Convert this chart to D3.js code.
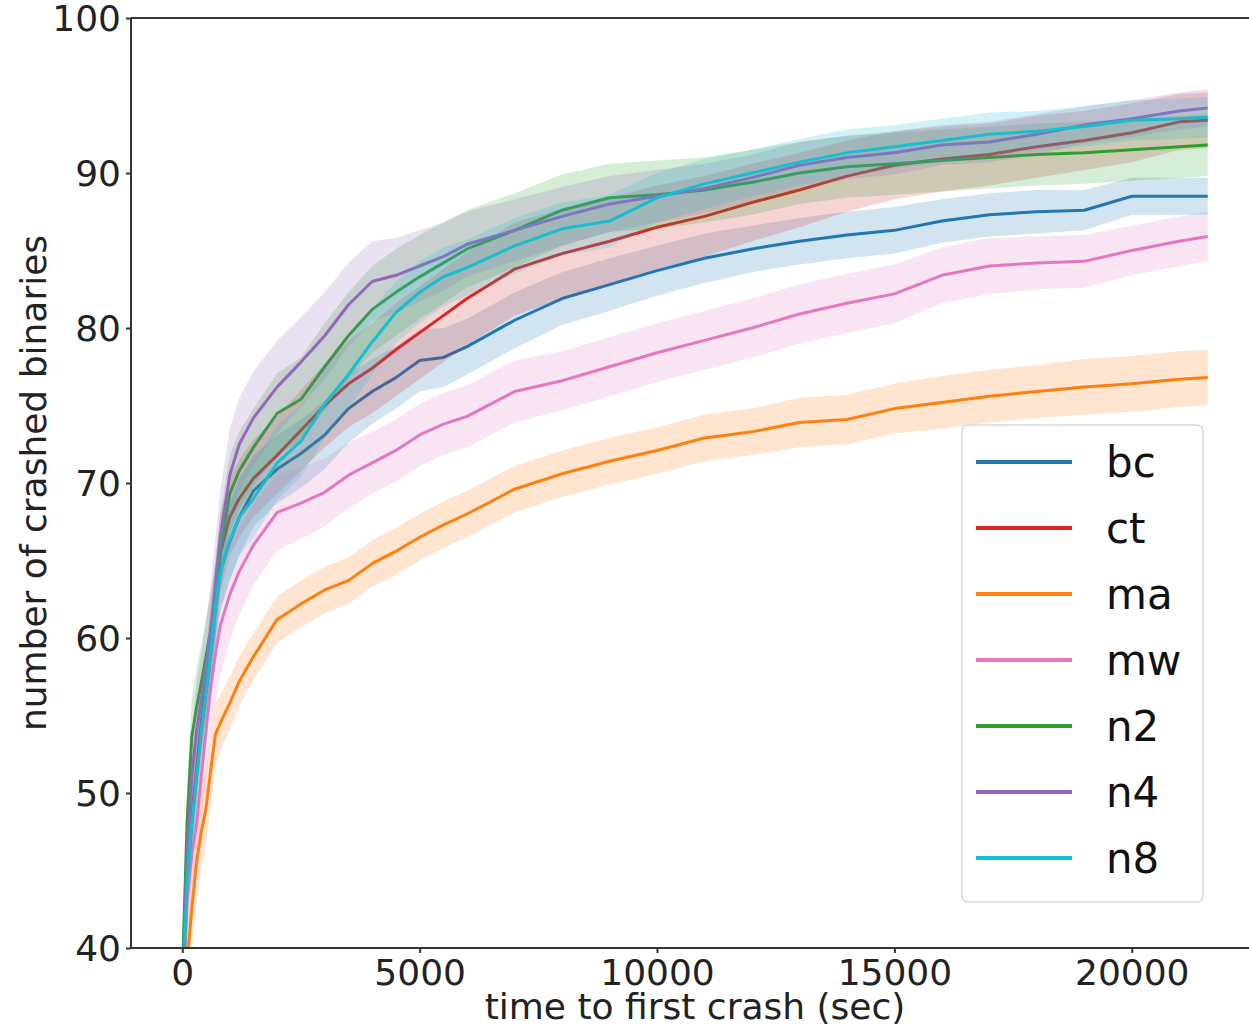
<!DOCTYPE html>
<html><head><meta charset="utf-8">
<script src="https://cdn.jsdelivr.net/npm/d3@7"></script>
<style>body{margin:0;background:#fff}svg{display:block}text{font-family:"DejaVu Sans",sans-serif}</style>
</head><body>
<script>
const times = [0,100,200,300,400,500,600,700,800,1000,1200,1500,2000,2500,3000,3500,4000,4500,5000,5500,6000,7000,8000,9000,10000,11000,12000,13000,14000,15000,16000,17000,18000,19000,20000,21000,21600];

const bc = [36,44,48,51,54,56.5,59,62,64.3,66.2,67.8,69.5,70.9,71.9,73.1,74.8,75.9,76.8,77.9,78.1,78.8,80.5,81.9,82.8,83.7,84.5,85.1,85.6,86.0,86.3,86.9,87.3,87.5,87.6,88.5,88.5,88.5];
const ct = [36,44,48.5,51.5,54.5,57,60,62.5,65.5,67.8,69.0,70.3,71.8,73.4,75.0,76.4,77.4,78.6,79.7,80.8,81.9,83.8,84.8,85.6,86.5,87.2,88.1,88.9,89.8,90.5,90.9,91.2,91.7,92.1,92.6,93.3,93.4];
const ma = [36,39,42.5,45.5,47.5,49,51.5,53.8,54.5,55.8,57.2,58.8,61.2,62.2,63.1,63.7,64.8,65.6,66.5,67.3,68.0,69.6,70.6,71.4,72.1,72.9,73.3,73.9,74.1,74.8,75.2,75.6,75.9,76.2,76.4,76.7,76.8];
const mw = [36,43,46,48,51,54,56.8,59,60.8,62.8,64.3,66.0,68.1,68.7,69.4,70.5,71.3,72.1,73.1,73.8,74.3,75.9,76.6,77.5,78.4,79.2,80.0,80.9,81.6,82.2,83.4,84.0,84.2,84.3,85.0,85.6,85.9];
const n2 = [38,48,53.6,55.5,57.1,58.8,60.5,62.5,65.5,69.3,70.8,72.3,74.5,75.4,77.5,79.5,81.2,82.3,83.3,84.2,85.1,86.3,87.6,88.4,88.6,88.9,89.4,90.0,90.4,90.6,90.8,91.0,91.2,91.3,91.5,91.7,91.8];
const n4 = [37,46,51,54,56,58,60.5,63.5,66.5,70.5,72.5,74.2,76.2,77.8,79.5,81.5,83.0,83.4,84.0,84.6,85.4,86.3,87.2,88.0,88.5,89.0,89.7,90.5,91.0,91.3,91.8,92.0,92.5,93.1,93.5,94.0,94.2];
const n8 = [36,44,48,51,54,56.5,59,62,64.2,66.3,67.8,69.0,71.3,72.7,75.1,77.0,79.1,81.0,82.3,83.3,83.9,85.3,86.4,86.9,88.4,89.3,90.0,90.7,91.3,91.7,92.1,92.5,92.7,93.0,93.4,93.5,93.6];

const bcErr = [2,2,2,2,2,2,2.2,2.5,2.5,2.5,2.5,2.3,2.2,2.2,2.2,2.2,2.1,2.0,2.0,1.9,1.8,1.8,1.7,1.7,1.6,1.6,1.5,1.5,1.5,1.5,1.4,1.4,1.4,1.3,1.2,1.2,1.2];
const ctErr = [2,2,2,2,2,2.2,2.4,2.5,2.5,2.5,2.5,2.5,2.5,2.6,2.7,2.8,2.9,3.0,3.0,3.0,3.0,3.0,2.9,2.8,2.7,2.6,2.5,2.4,2.3,2.2,2.1,2.0,2.0,1.9,1.9,1.8,1.8];
const maErr = [2,2.5,2.5,2.5,2.5,2.5,2.3,2.0,1.8,1.7,1.6,1.5,1.5,1.5,1.5,1.5,1.5,1.5,1.5,1.5,1.5,1.5,1.5,1.5,1.5,1.5,1.5,1.6,1.6,1.6,1.7,1.7,1.7,1.8,1.8,1.8,1.8];
const mwErr = [2,3,3,3,3,3.2,3.2,3.2,3.2,3.0,2.8,2.6,2.4,2.3,2.2,2.1,2.0,2.0,2.0,2.0,2.0,2.0,1.9,1.9,1.9,1.9,1.9,1.9,1.9,1.9,1.8,1.8,1.7,1.7,1.6,1.6,1.6];
const n2Err = [2,2.5,2.5,2.5,2.5,2.5,2.5,2.5,2.5,2.5,2.5,2.5,2.6,2.7,2.8,2.8,2.8,2.8,2.7,2.6,2.5,2.4,2.3,2.2,2.2,2.1,2.1,2.0,2.0,2.0,2.0,2.0,2.0,2.0,2.0,2.0,2.0];
const n4Err = [2,3,3,3,3,3,3,3,3,3,3,3,3,2.9,2.8,2.7,2.6,2.4,2.3,2.2,2.1,2.0,1.9,1.8,1.7,1.6,1.5,1.5,1.4,1.4,1.3,1.3,1.3,1.2,1.2,1.2,1.2];
const n8Err = [2,2.5,2.5,2.5,2.5,2.5,2.5,2.5,2.5,2.5,2.5,2.5,2.4,2.3,2.2,2.2,2.1,2.0,2.0,1.9,1.8,1.8,1.7,1.7,1.6,1.6,1.5,1.5,1.5,1.4,1.4,1.4,1.3,1.3,1.3,1.3,1.3];

const names = ["bc","ct","ma","mw","n2","n4","n8"];
const colors = ["#1f77b4","#d62728","#ff7f0e","#e377c2","#2ca02c","#9467bd","#17becf"];
const yTicks = [40,50,60,70,80,90,100];
const xTicks = [0,5000,10000,15000,20000];
const xLabel = "time to first crash (sec)";
const yLabel = "number of crashed binaries";

const seriesVals = [bc,ct,ma,mw,n2,n4,n8];
const seriesErr = [bcErr,ctErr,maErr,mwErr,n2Err,n4Err,n8Err];

const W = 1249, H = 1027;
const L = 131, R = 1259, T = 18, B = 948;
const svg = d3.select("body").append("svg").attr("width", W).attr("height", H);

const x = d3.scaleLinear().domain([-1080, 22680]).range([L, R]);
const y = d3.scaleLinear().domain([40, 100]).range([B, T]);

svg.append("clipPath").attr("id","clip").append("rect")
  .attr("x", L).attr("y", T).attr("width", R - L).attr("height", B - T);

const plot = svg.append("g").attr("clip-path","url(#clip)");

names.forEach((n, i) => {
  const data = times.map((t, j) => ({t, v: seriesVals[i][j], e: seriesErr[i][j]}));
  const area = d3.area().x(d => x(d.t)).y0(d => y(d.v - d.e)).y1(d => y(d.v + d.e));
  plot.append("path").datum(data).attr("d", area)
    .attr("fill", colors[i]).attr("fill-opacity", 0.2).attr("stroke","none");
  const line = d3.line().x(d => x(d.t)).y(d => y(d.v));
  plot.append("path").datum(data).attr("d", line)
    .attr("fill","none").attr("stroke", colors[i]).attr("stroke-width", 3)
    .attr("stroke-linejoin","round");
});

// axes
const xAxis = d3.axisBottom(x).tickValues(xTicks).tickFormat(d3.format("d")).tickSize(5).tickPadding(6);
const yAxis = d3.axisLeft(y).tickValues(yTicks).tickFormat(d3.format("d")).tickSize(5).tickPadding(5);
const gx = svg.append("g").attr("transform", `translate(0,${B})`).call(xAxis);
const gy = svg.append("g").attr("transform", `translate(${L},0)`).call(yAxis);
[gx, gy].forEach(g => {
  g.select(".domain").remove();
  g.selectAll(".tick line").attr("stroke","#333").attr("stroke-width",2);
  g.selectAll(".tick text").attr("font-size", 36).attr("fill","#222").attr("font-family","DejaVu Sans");
});
gy.selectAll(".tick text").attr("dy","0.35em");

// spines
svg.append("line").attr("x1", L).attr("x2", L).attr("y1", T).attr("y2", B).attr("stroke","#333").attr("stroke-width",2);
svg.append("line").attr("x1", L).attr("x2", R).attr("y1", B).attr("y2", B).attr("stroke","#333").attr("stroke-width",2);
svg.append("line").attr("x1", L).attr("x2", R).attr("y1", T).attr("y2", T).attr("stroke","#333").attr("stroke-width",2);
svg.append("line").attr("x1", R).attr("x2", R).attr("y1", T).attr("y2", B).attr("stroke","#333").attr("stroke-width",2);

// labels
svg.append("text").attr("x", (L + R) / 2).attr("y", 1019).attr("text-anchor","middle")
  .attr("font-size", 36).attr("fill","#222").text(xLabel);
svg.append("text").attr("transform", `translate(46,483) rotate(-90)`).attr("text-anchor","middle")
  .attr("font-size", 36).attr("fill","#222").text(yLabel);

// legend
const lg = svg.append("g");
lg.append("rect").attr("x", 962).attr("y", 425).attr("width", 241).attr("height", 477)
  .attr("rx", 6).attr("fill","#fff").attr("fill-opacity",0.85).attr("stroke","#d8d8d8").attr("stroke-width",1.5);
names.forEach((n, i) => {
  const cy = 462 + i * 66;
  lg.append("line").attr("x1", 976).attr("x2", 1072).attr("y1", cy).attr("y2", cy)
    .attr("stroke", colors[i]).attr("stroke-width", 4);
  lg.append("text").attr("x", 1106).attr("y", cy).attr("dy","0.36em")
    .attr("font-size", 42).attr("fill","#111").text(n);
});
</script>
</body></html>
